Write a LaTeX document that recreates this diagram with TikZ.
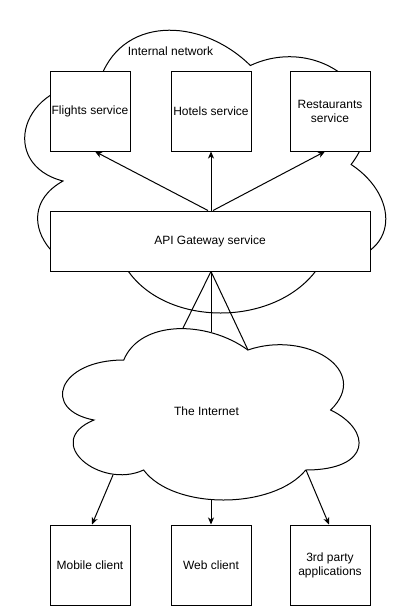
\documentclass[tikz,border=0pt]{standalone}
\usepackage{fontspec}
\setmainfont{Liberation Sans}
\usetikzlibrary{arrows.meta}
\tikzset{
  box/.style={draw=black, fill=white, line width=1pt, minimum width=80pt, minimum height=80pt, inner sep=0pt, align=center, font=\fontsize{12pt}{14pt}\selectfont},
  gwbox/.style={box, minimum width=320pt, minimum height=60pt},
  lbl/.style={inner sep=0pt, align=center, font=\fontsize{12pt}{14pt}\selectfont},
  cloudline/.style={draw=black, fill=white, line width=1pt},
  conn/.style={draw=black, line width=1pt},
  arr/.style={conn, -{Stealth[length=7pt,width=6pt,inset=2pt]}}
}
\newcommand{\cloudpath}{(0.25,0.25) .. controls (0.05,0.25) and (0,0.5) .. (0.16,0.55) .. controls (0,0.66) and (0.18,0.9) .. (0.31,0.8) .. controls (0.4,1) and (0.7,1) .. (0.8,0.8) .. controls (1,0.8) and (1,0.6) .. (0.875,0.5) .. controls (1,0.3) and (0.8,0.1) .. (0.625,0.2) .. controls (0.5,0.05) and (0.3,0.05) .. (0.25,0.25) -- cycle}
\begin{document}
\begin{tikzpicture}[x=1pt,y=-1pt]
\useasboundingbox (0,0) rectangle (402,606);
% internal network cloud
\begin{scope}[shift={(-1.5,-0.5)}, xscale=403, yscale=330]
  \path[cloudline] \cloudpath;
\end{scope}
\node[lbl] (inl) at (170.5,51) {Internal network};
% internet cloud
\begin{scope}[shift={(41,310)}, xscale=331, yscale=200]
  \path[cloudline] \cloudpath;
\end{scope}
\node[lbl] (inet) at (206.5,411) {The Internet};
% services
\node[box] (fl) at (90,111) {Flights service};
\node[box] (ho) at (211,111) {Hotels service};
\node[box] (re) at (330,111) {Restaurants\\service};
\node[gwbox] (gw) at (210,241) {API Gateway service};
% clients
\node[box] (mb) at (90,565) {Mobile client};
\node[box] (wb) at (211,565) {Web client};
\node[box] (tp) at (330,565) {3rd party\\applications};
% cloud edge points
\coordinate (i1) at (183,328);
\coordinate (i2) at (211,332);
\coordinate (i3) at (248,350);
\coordinate (o1) at (113,475);
\coordinate (o2) at (211,500);
\coordinate (o3) at (306,470);
% gateway to services
\draw[arr] ([xshift=-2pt]gw.north) -- ([xshift=5pt]fl.south);
\draw[arr] (ho.south |- gw.north) -- (ho.south);
\draw[arr] ([xshift=3pt]gw.north) -- ([xshift=-5pt]re.south);
% gateway to internet
\draw[conn] ([xshift=1pt]gw.south) -- (i1);
\draw[conn] ([xshift=1pt]gw.south) -- (i2);
\draw[conn] ([xshift=1pt]gw.south) -- (i3);
% internet to clients
\draw[arr] (o1) -- ([xshift=2pt]mb.north);
\draw[arr] (o2) -- (wb.north);
\draw[arr] (o3) -- ([xshift=-1pt]tp.north);
\end{tikzpicture}
\end{document}
